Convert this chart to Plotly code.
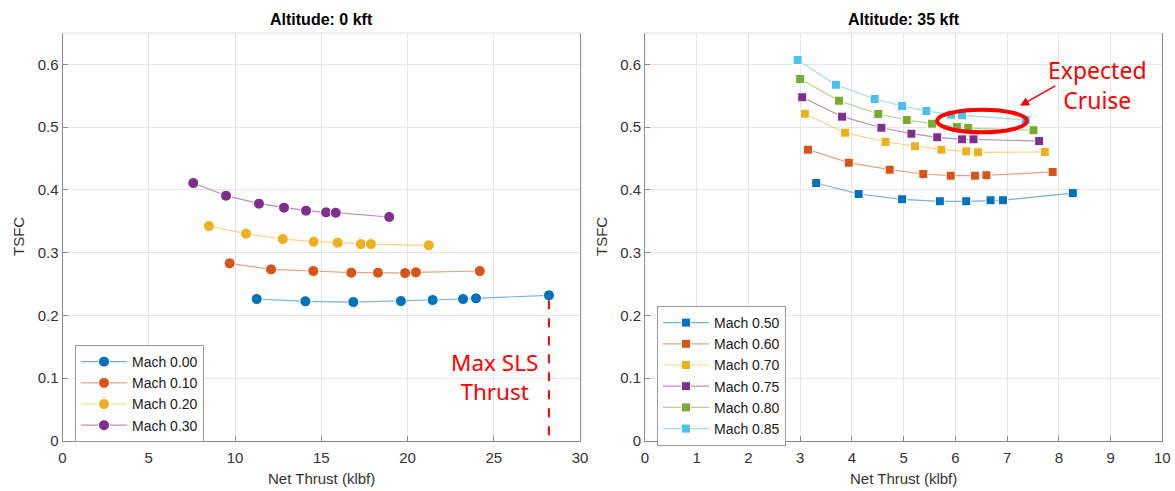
import plotly.graph_objects as go

W, H = 1175, 491

# ---------------- data ----------------
# Altitude 0 kft
mach_labels_0 = ["Mach 0.00", "Mach 0.10", "Mach 0.20", "Mach 0.30"]
thrust_m000 = [11.26, 14.08, 16.86, 19.62, 21.46, 23.22, 23.97, 28.2]
tsfc_m000 = [0.2262, 0.2226, 0.2214, 0.2230, 0.2246, 0.2262, 0.2273, 0.2321]
thrust_m010 = [9.69, 12.09, 14.54, 16.74, 18.29, 19.86, 20.49, 24.19]
tsfc_m010 = [0.2831, 0.2735, 0.2708, 0.2681, 0.2681, 0.2676, 0.2688, 0.2708]
thrust_m020 = [8.49, 10.64, 12.77, 14.56, 15.95, 17.30, 17.88, 21.23]
tsfc_m020 = [0.3425, 0.3303, 0.3218, 0.3175, 0.3159, 0.3138, 0.3138, 0.3118]
thrust_m030 = [7.58, 9.48, 11.39, 12.84, 14.12, 15.28, 15.84, 18.94]
tsfc_m030 = [0.4110, 0.3908, 0.3781, 0.3717, 0.3669, 0.3643, 0.3637, 0.3569]

# Altitude 35 kft
mach_labels_35 = ["Mach 0.50", "Mach 0.60", "Mach 0.70", "Mach 0.75", "Mach 0.80", "Mach 0.85"]
thrust_m050 = [3.31, 4.13, 4.97, 5.70, 6.21, 6.68, 6.92, 8.27]
tsfc_m050 = [0.4110, 0.3935, 0.3851, 0.3819, 0.3819, 0.3835, 0.3835, 0.3950]
thrust_m060 = [3.15, 3.94, 4.73, 5.38, 5.91, 6.38, 6.60, 7.88]
tsfc_m060 = [0.4641, 0.4434, 0.4322, 0.4254, 0.4227, 0.4227, 0.4233, 0.4286]
thrust_m070 = [3.09, 3.87, 4.65, 5.22, 5.73, 6.21, 6.44, 7.73]
tsfc_m070 = [0.5214, 0.4912, 0.4763, 0.4695, 0.4641, 0.4615, 0.4599, 0.4604]
thrust_m075 = [3.04, 3.81, 4.57, 5.15, 5.65, 6.13, 6.35, 7.62]
tsfc_m075 = [0.5476, 0.5167, 0.4991, 0.4896, 0.4838, 0.4806, 0.4806, 0.4779]
thrust_m080 = [3.00, 3.75, 4.51, 5.06, 5.55, 6.03, 6.25, 7.51]
tsfc_m080 = [0.5767, 0.5421, 0.5209, 0.5114, 0.5055, 0.5002, 0.4986, 0.4950]
thrust_m085 = [2.95, 3.69, 4.44, 4.97, 5.44, 5.92, 6.13, 7.36]
tsfc_m085 = [0.6070, 0.5676, 0.5449, 0.5337, 0.5258, 0.5199, 0.5189, 0.5114]

max_sls_thrust = thrust_m000[-1]
max_sls_tsfc = tsfc_m000[-1]

x_ticks_0 = [0, 5, 10, 15, 20, 25, 30]
x_ticks_35 = [0, 1, 2, 3, 4, 5, 6, 7, 8, 9, 10]
y_ticks = [0, 0.1, 0.2, 0.3, 0.4, 0.5, 0.6]

# cruise ellipse bounds (data coords of panel 2)
cruise_x = [5.65, 7.38]
cruise_y = [0.4918, 0.5278]

# ---------------- styling ----------------
colors = ["#0072BD", "#D95319", "#EDB120", "#7E2F8E", "#77AC30", "#4DBEEE"]


def rgba(hexc, a):
    h = hexc.lstrip("#")
    r, g, b = int(h[0:2], 16), int(h[2:4], 16), int(h[4:6], 16)
    return f"rgba({r},{g},{b},{a})"


FONT = "Liberation Sans, Arial, Helvetica, sans-serif"
ANN_FONT = "Noto Sans, Open Sans, sans-serif"

fig = go.Figure()

series0 = [(thrust_m000, tsfc_m000), (thrust_m010, tsfc_m010),
           (thrust_m020, tsfc_m020), (thrust_m030, tsfc_m030)]
for i, ((xs, ys), name) in enumerate(zip(series0, mach_labels_0)):
    fig.add_trace(go.Scatter(
        x=xs, y=ys, mode="lines+markers", name=name,
        line=dict(color=rgba(colors[i], 0.55), width=1.2),
        marker=dict(symbol="circle", size=11, color=colors[i],
                    line=dict(color="white", width=1)),
        xaxis="x", yaxis="y", legend="legend"))

series35 = [(thrust_m050, tsfc_m050), (thrust_m060, tsfc_m060),
            (thrust_m070, tsfc_m070), (thrust_m075, tsfc_m075),
            (thrust_m080, tsfc_m080), (thrust_m085, tsfc_m085)]
for i, ((xs, ys), name) in enumerate(zip(series35, mach_labels_35)):
    fig.add_trace(go.Scatter(
        x=xs, y=ys, mode="lines+markers", name=name,
        line=dict(color=rgba(colors[i], 0.55), width=1.2),
        marker=dict(symbol="square", size=9, color=colors[i],
                    line=dict(color="white", width=1)),
        xaxis="x2", yaxis="y2", legend="legend2"))

# Max SLS dashed line
fig.add_trace(go.Scatter(
    x=[max_sls_thrust, max_sls_thrust], y=[max_sls_tsfc - 0.008, 0],
    mode="lines", line=dict(color="#FF0000", width=2, dash="dash"),
    showlegend=False, hoverinfo="skip", xaxis="x", yaxis="y"))

dom_y = [1 - 441 / H, 1 - 33 / H]
dom_x1 = [62.5 / W, 580 / W]
dom_x2 = [645 / W, 1162.3 / W]

axis_common = dict(
    showgrid=True, gridcolor="#e6e6e6", gridwidth=1,
    showline=True, linecolor="#8c8c8c", linewidth=1,
    ticks="inside", ticklen=5, tickcolor="#8c8c8c",
    tickfont=dict(family=FONT, size=15, color="#333333"),
    zeroline=False, fixedrange=True, automargin=False,
)

fig.update_layout(
    width=W, height=H,
    margin=dict(l=0, r=0, t=0, b=0, pad=0),
    paper_bgcolor="white", plot_bgcolor="white",
    font=dict(family=FONT, color="#262626"),
    xaxis=dict(domain=dom_x1, range=[0, 30], tickvals=x_ticks_0,
               anchor="y", mirror=False, ticklabelstandoff=3, **axis_common),
    yaxis=dict(domain=dom_y, range=[0, 0.65], tickvals=y_ticks,
               anchor="x", mirror=True, **axis_common),
    xaxis2=dict(domain=dom_x2, range=[0, 10], tickvals=x_ticks_35,
                anchor="y2", mirror=False, ticklabelstandoff=3, **axis_common),
    yaxis2=dict(domain=dom_y, range=[0, 0.65], tickvals=y_ticks,
                anchor="x2", mirror=True, **axis_common),
    legend=dict(x=75 / W, y=1 - 345 / H, xanchor="left", yanchor="top",
                bgcolor="white", bordercolor="#999999", borderwidth=1,
                font=dict(family=FONT, size=14, color="#1a1a1a"),
                tracegroupgap=0, itemwidth=46),
    legend2=dict(x=657 / W, y=1 - 306 / H, xanchor="left", yanchor="top",
                 bgcolor="white", bordercolor="#999999", borderwidth=1,
                 font=dict(family=FONT, size=14, color="#1a1a1a"),
                 tracegroupgap=0, itemwidth=46),
    showlegend=True,
)

# top borders (light)
for xr, yr in [("x domain", "y domain"), ("x2 domain", "y2 domain")]:
    fig.add_shape(type="line", xref=xr, yref=yr, x0=0, x1=1, y0=1, y1=1,
                  line=dict(color="#dcdcdc", width=1))

# cruise ellipse
fig.add_shape(type="circle", xref="x2", yref="y2",
              x0=cruise_x[0], x1=cruise_x[1], y0=cruise_y[0], y1=cruise_y[1],
              line=dict(color="#FF0000", width=4))

ann = []
# titles
ann.append(dict(text="<b>Altitude: 0 kft</b>", x=(dom_x1[0] + dom_x1[1]) / 2,
                y=1 - 20 / H, xref="paper", yref="paper", showarrow=False,
                font=dict(family=FONT, size=16, color="#000000"),
                xanchor="center", yanchor="middle"))
ann.append(dict(text="<b>Altitude: 35 kft</b>", x=(dom_x2[0] + dom_x2[1]) / 2,
                y=1 - 20 / H, xref="paper", yref="paper", showarrow=False,
                font=dict(family=FONT, size=16, color="#000000"),
                xanchor="center", yanchor="middle"))
# axis titles
for xc in [(dom_x1[0] + dom_x1[1]) / 2, (dom_x2[0] + dom_x2[1]) / 2]:
    ann.append(dict(text="Net Thrust (klbf)", x=xc, y=1 - 478 / H,
                    xref="paper", yref="paper", showarrow=False,
                    font=dict(family=FONT, size=15, color="#333333"),
                    xanchor="center", yanchor="middle"))
for xp in [18 / W, 601 / W]:
    ann.append(dict(text="TSFC", x=xp, y=(dom_y[0] + dom_y[1]) / 2,
                    xref="paper", yref="paper", showarrow=False, textangle=-90,
                    font=dict(family=FONT, size=15, color="#333333"),
                    xanchor="center", yanchor="middle"))
# Max SLS annotation
ann.append(dict(text="Max SLS<br>Thrust", x=25.07, y=0.1025, xref="x", yref="y",
                showarrow=False, font=dict(family=ANN_FONT, size=22.5, color="#FF0000"),
                xanchor="center", yanchor="middle", align="center"))
# Expected cruise
ann.append(dict(text="Expected<br>Cruise", x=8.74, y=0.5667, xref="x2", yref="y2",
                showarrow=False, font=dict(family=ANN_FONT, size=23, color="#FF0000"),
                xanchor="center", yanchor="middle", align="center"))
ann.append(dict(text="", x=7.25, y=0.534, ax=7.96, ay=0.567,
                xref="x2", yref="y2", axref="x2", ayref="y2",
                showarrow=True, arrowhead=2, arrowsize=1.2, arrowwidth=1.5,
                arrowcolor="#FF0000"))
fig.update_layout(annotations=ann)

fig.write_html("out.html")
